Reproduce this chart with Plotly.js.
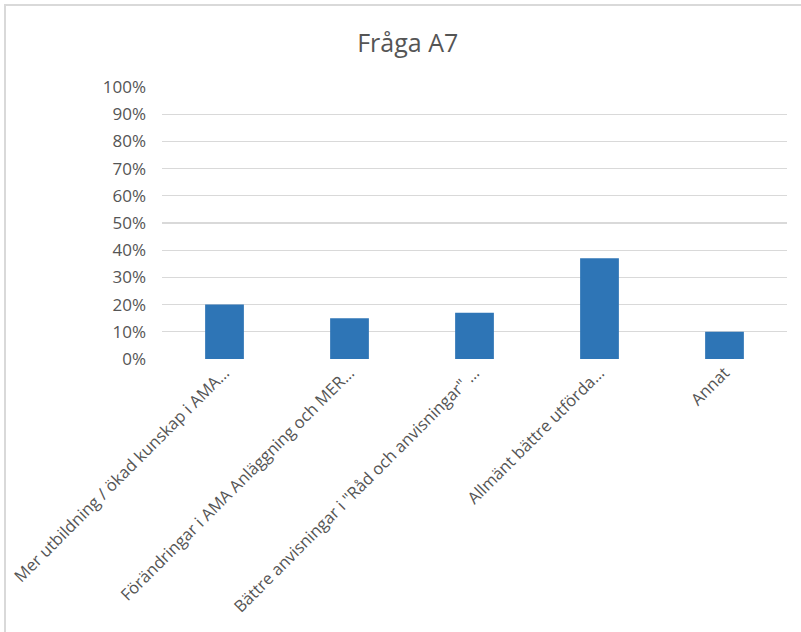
<!DOCTYPE html>
<html>
<head>
<meta charset="utf-8">
<script src="https://cdn.plot.ly/plotly-3.0.1.min.js"></script>
<style>
  html, body { margin: 0; padding: 0; background: #ffffff; }
  #wrap { position: relative; width: 801px; height: 632px; }
  #chart { position: absolute; left: 0; top: 0; width: 801px; height: 632px; }
  #frame { position: absolute; left: 4px; top: 4px; width: 800px; height: 632px;
           border-left: 2px solid #d9d9d9; border-top: 2px solid #d9d9d9;
           pointer-events: none; box-sizing: border-box; }
</style>
</head>
<body>
<div id="wrap">
  <div id="chart"></div>
  <div id="frame"></div>
</div>
<script>
// Svarsalternativ för fråga A7 och andel svarande
const categories = [
  'Mer utbildning / ökad kunskap i AMA…',
  'Förändringar i AMA Anläggning och MER…',
  'Bättre anvisningar i "Råd och anvisningar" …',
  'Allmänt bättre utförda…',
  'Annat'
];
const shares = [0.20, 0.15, 0.17, 0.37, 0.10];
const yTickValues = [0, 0.1, 0.2, 0.3, 0.4, 0.5, 0.6, 0.7, 0.8, 0.9, 1.0];

const textColor = '#555555';
const fontFamily = '"Open Sans", "Noto Sans", sans-serif';

const trace = {
  type: 'bar',
  x: categories,
  y: shares,
  marker: { color: '#2e75b6' },
  hoverinfo: 'x+y'
};

const layout = {
  width: 801,
  height: 632,
  margin: { l: 162, r: 14, t: 87, b: 273 },
  paper_bgcolor: '#ffffff',
  plot_bgcolor: '#ffffff',
  showlegend: false,
  bargap: 0.69,
  title: {
    text: 'Fråga A7',
    font: { family: fontFamily, size: 25, color: textColor },
    x: 0.509,
    xanchor: 'center',
    xref: 'container',
    y: 0.932,
    yanchor: 'middle',
    yref: 'container'
  },
  xaxis: {
    type: 'category',
    tickangle: -45,
    tickfont: { family: fontFamily, size: 16.5, color: textColor },
    showgrid: false,
    showline: false,
    zeroline: false,
    ticks: ''
  },
  yaxis: {
    range: [0, 1],
    tickvals: yTickValues,
    tickformat: '.0%',
    tickfont: { family: fontFamily, size: 17, color: textColor },
    showgrid: true,
    gridcolor: '#d9d9d9',
    gridwidth: 1.3,
    zeroline: false,
    showline: false,
    ticks: '',
    ticklabelstandoff: 15,
    fixedrange: true
  }
};

Plotly.newPlot('chart', [trace], layout, { displayModeBar: false, staticPlot: true });
</script>
</body>
</html>
